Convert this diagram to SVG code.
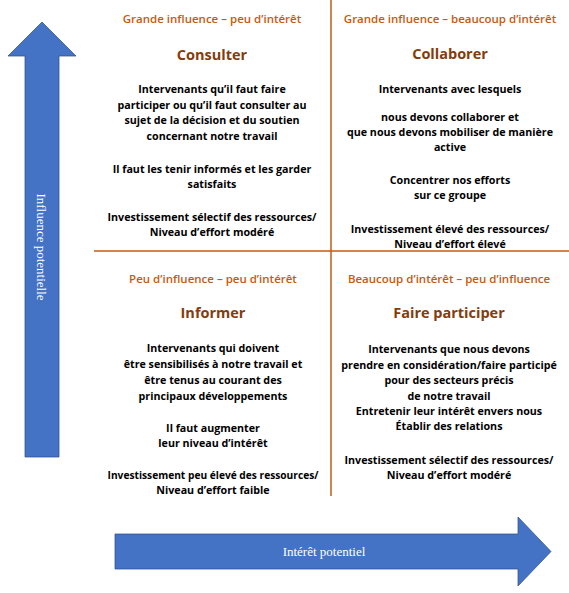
<svg xmlns="http://www.w3.org/2000/svg" width="569" height="593" viewBox="0 0 569 593">
<style>
.hd{font-family:"Open Sans","Noto Sans","Liberation Sans",sans-serif;font-weight:600;font-size:11.5px;fill:#C55A11;text-anchor:middle}
.tt{font-family:"Open Sans","Noto Sans","Liberation Sans",sans-serif;font-weight:700;font-size:14.5px;fill:#843C0C;text-anchor:middle}
.bd{font-family:"Open Sans","Noto Sans","Liberation Sans",sans-serif;font-weight:700;font-size:10.7px;fill:#000;text-anchor:middle}
.ax{font-family:"Liberation Serif","DejaVu Serif",serif;font-size:13px;fill:#fff;text-anchor:middle}
.arrow{fill:#4472C4;stroke:#2F528F;stroke-width:0.75}
.div{stroke:#C55A11;stroke-width:1.5;fill:none}
</style>
<rect width="569" height="593" fill="#fff"/>
<g id="connectors">
<line class="div" x1="331" y1="0" x2="331" y2="496"/>
<line class="div" x1="94" y1="251" x2="569" y2="251"/>
</g>
<g id="axis-influence">
<polygon class="arrow" points="42,22 76,56 59,56 59,457 25,457 25,56 8,56"/>
<text class="ax" transform="translate(37,247) rotate(90)">Influence potentielle</text>
</g>
<g id="axis-interet">
<polygon class="arrow" points="115,534 518,534 518,517 551,551.5 518,586 518,569 115,569"/>
<text class="ax" x="324" y="556">Intérêt potentiel</text>
</g>
<g id="q-consulter">
<text class="hd" x="212" y="23">Grande influence – peu d’intérêt</text>
<text class="tt" x="212" y="60">Consulter</text>
<text class="bd" x="212" y="93">Intervenants qu’il faut faire</text>
<text class="bd" x="212" y="109">participer ou qu’il faut consulter au</text>
<text class="bd" x="212" y="124">sujet de la décision et du soutien</text>
<text class="bd" x="212" y="140">concernant notre travail</text>
<text class="bd" x="212" y="173">Il faut les tenir informés et les garder</text>
<text class="bd" x="212" y="188">satisfaits</text>
<text class="bd" x="212" y="221">Investissement sélectif des ressources/</text>
<text class="bd" x="212" y="236">Niveau d’effort modéré</text>
</g>
<g id="q-collaborer">
<text class="hd" x="450" y="23">Grande influence – beaucoup d’intérêt</text>
<text class="tt" x="450" y="59">Collaborer</text>
<text class="bd" x="450" y="93">Intervenants avec lesquels</text>
<text class="bd" x="450" y="121">nous devons collaborer et</text>
<text class="bd" x="450" y="136">que nous devons mobiliser de manière</text>
<text class="bd" x="450" y="151">active</text>
<text class="bd" x="450" y="184">Concentrer nos efforts</text>
<text class="bd" x="450" y="199">sur ce groupe</text>
<text class="bd" x="450" y="233">Investissement élevé des ressources/</text>
<text class="bd" x="450" y="248">Niveau d’effort élevé</text>
</g>
<g id="q-informer">
<text class="hd" x="213" y="283">Peu d’influence – peu d’intérêt</text>
<text class="tt" x="213" y="318">Informer</text>
<text class="bd" x="213" y="352">Intervenants qui doivent</text>
<text class="bd" x="213" y="368">être sensibilisés à notre travail et</text>
<text class="bd" x="213" y="384">être tenus au courant des</text>
<text class="bd" x="213" y="400">principaux développements</text>
<text class="bd" x="213" y="432">Il faut augmenter</text>
<text class="bd" x="213" y="447">leur niveau d’intérêt</text>
<text class="bd" x="213" y="479" style="font-size:10.2px">Investissement peu élevé des ressources/</text>
<text class="bd" x="213" y="494">Niveau d’effort faible</text>
</g>
<g id="q-faire-participer">
<text class="hd" x="449" y="283">Beaucoup d’intérêt – peu d’influence</text>
<text class="tt" x="449" y="318">Faire participer</text>
<text class="bd" x="449" y="353">Intervenants que nous devons</text>
<text class="bd" x="449" y="369">prendre en considération/faire participé</text>
<text class="bd" x="449" y="384">pour des secteurs précis</text>
<text class="bd" x="449" y="400">de notre travail</text>
<text class="bd" x="449" y="415">Entretenir leur intérêt envers nous</text>
<text class="bd" x="449" y="430">Établir des relations</text>
<text class="bd" x="449" y="464">Investissement sélectif des ressources/</text>
<text class="bd" x="449" y="479">Niveau d’effort modéré</text>
</g>
</svg>
